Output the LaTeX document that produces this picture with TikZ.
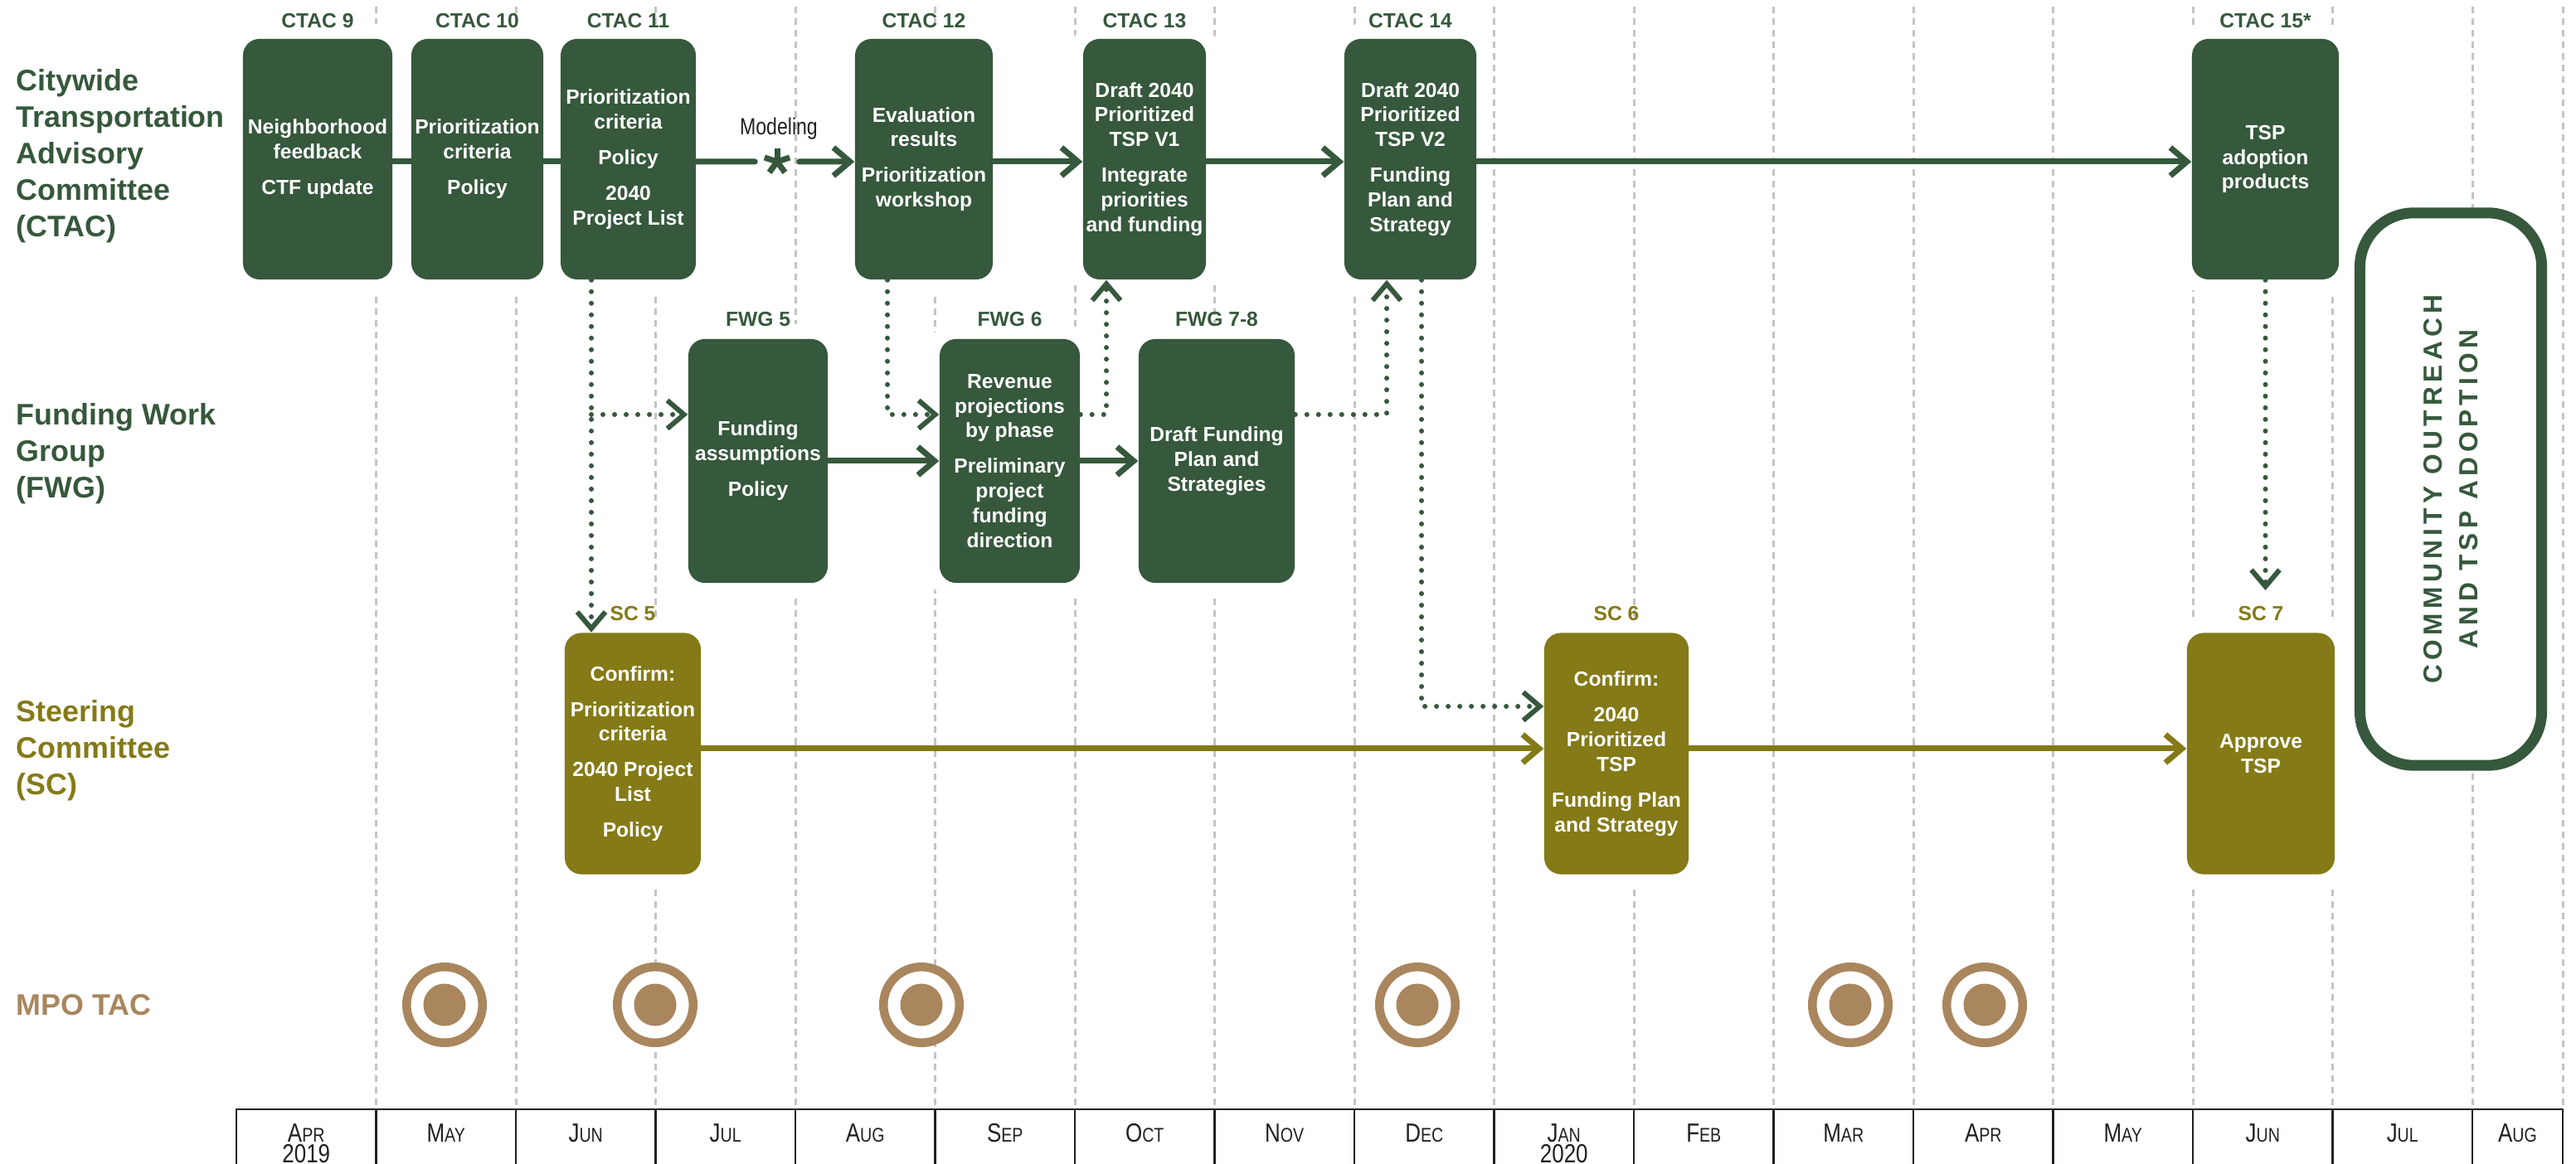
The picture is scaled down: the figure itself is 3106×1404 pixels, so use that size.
\documentclass[tikz,border=0pt]{standalone}
\usepackage{fontspec}
\setmainfont{Liberation Sans}
\newfontfamily\narrowfont{Liberation Sans}[FakeStretch=0.82]
\newfontfamily\spacedfont{Liberation Sans}[LetterSpace=17]
\usepackage{tikz}
\usetikzlibrary{arrows.meta}
\usetikzlibrary{positioning}

\definecolor{ctacgreen}{HTML}{36583C}
\definecolor{scolive}{HTML}{847A17}
\definecolor{mpotan}{HTML}{A9865D}
\definecolor{gridgray}{HTML}{C4C4C4}
\definecolor{axisgray}{HTML}{231F20}

\newcommand{\monthlbl}[2]{#1{\fontsize{6.8}{8}\selectfont #2}}

\begin{document}
\begin{tikzpicture}[line cap=round,line join=round,x=0.01cm,y=-0.01cm,
    >={Straight Barb[length=0.2cm,width=0.34cm]},
    box/.style={rounded corners=0.2cm, minimum height=2.9cm, inner sep=1pt, align=center,
      text=white, font=\fontsize{7}{8.5}\selectfont\bfseries,
      preaction={draw=white, line width=0.36cm}},
    ctacbox/.style={box, fill=ctacgreen},
    scbox/.style={box, fill=scolive},
    boxlbl/.style={inner sep=0, font=\fontsize{7}{8}\selectfont\bfseries},
    rowlbl/.style={anchor=west, align=left, inner sep=0, font=\fontsize{10.2}{12.5}\selectfont\bfseries},
    monthtxt/.style={anchor=north, inner sep=0, align=center, font=\fontsize{9}{7}\narrowfont, text=axisgray},
    flow/.style={line width=0.07cm, ctacgreen},
    dotflow/.style={line width=0.06cm, ctacgreen, dash pattern=on 0pt off 0.14cm},
    gridline/.style={gridgray, line width=0.03cm, line cap=butt, dash pattern=on 0.08cm off 0.06cm},
    mpo/.style={circle, draw=mpotan, fill=white, line width=0.105cm, minimum size=0.915cm, inner sep=0}]
  \useasboundingbox (0,0) rectangle (3106,1404);

  % month grid
  \foreach \i in {1,...,16}
    \draw[gridline] ({285+168.5*\i},8) -- ({285+168.5*\i},1338);
  \draw[gridline] (3090,8) -- (3090,1338);

  % time axis
  \draw[axisgray, line width=0.028cm] (285,1338) -- (3090,1338);
  \foreach \i in {0,...,16}
    \draw[axisgray, line width=0.028cm, line cap=butt] ({285+168.5*\i},1338) -- ++(0,80);
  \draw[axisgray, line width=0.028cm, line cap=butt] (3090,1338) -- ++(0,80);
  \node[monthtxt] (m0) at (369.25,1355) {\monthlbl{A}{PR}\\2019};
  \foreach \a/\b [count=\i] in {M/AY,J/UN,J/UL,A/UG,S/EP,O/CT,N/OV,D/EC}
    \node[monthtxt] (m\i) at ({285+168.5*(\i+0.5)},1355) {\monthlbl{\a}{\b}};
  \node[monthtxt] (m9) at (1885.75,1355) {\monthlbl{J}{AN}\\2020};
  \foreach \a/\b [count=\i from 10] in {F/EB,M/AR,A/PR,M/AY,J/UN,J/UL}
    \node[monthtxt] (m\i) at ({285+168.5*(\i+0.5)},1355) {\monthlbl{\a}{\b}};
  \node[monthtxt] (m16) at (3035.5,1355) {\monthlbl{A}{UG}};

  % row titles
  \node[rowlbl, text=ctacgreen] (rctac) at (19,188) {Citywide\\Transportation\\Advisory\\Committee\\(CTAC)};
  \node[rowlbl, text=ctacgreen] (rfwg) at (19,547) {Funding Work\\Group\\(FWG)};
  \node[rowlbl, text=scolive] (rsc) at (19,905) {Steering\\Committee\\(SC)};
  \node[rowlbl, text=mpotan] (rmpo) at (19,1212) {MPO TAC};

  % CTAC meetings
  \node[ctacbox, minimum width=1.80cm] (c9) at (383,192) {Neighborhood\\feedback\\[3.7pt]CTF update};
  \node[ctacbox, minimum width=1.59cm] (c10) at (575.5,192) {Prioritization\\criteria\\[3.7pt]Policy};
  \node[ctacbox, minimum width=1.63cm] (c11) at (757.5,192) {Prioritization\\criteria\\[3.7pt]Policy\\[3.7pt]2040\\Project List};
  \node[ctacbox, minimum width=1.66cm] (c12) at (1114,192) {Evaluation\\results\\[3.7pt]Prioritization\\workshop};
  \node[ctacbox, minimum width=1.48cm] (c13) at (1380,192) {Draft 2040\\Prioritized\\TSP V1\\[3.7pt]Integrate\\priorities\\and funding};
  \node[ctacbox, minimum width=1.59cm] (c14) at (1700.5,192) {Draft 2040\\Prioritized\\TSP V2\\[3.7pt]Funding\\Plan and\\Strategy};
  \node[ctacbox, minimum width=1.77cm] (c15) at (2731.5,192) {TSP\\adoption\\products};
  \node[boxlbl, text=ctacgreen, above=0.12cm of c9] (l9) {CTAC 9};
  \node[boxlbl, text=ctacgreen, above=0.12cm of c10] (l10) {CTAC 10};
  \node[boxlbl, text=ctacgreen, above=0.12cm of c11] (l11) {CTAC 11};
  \node[boxlbl, text=ctacgreen, above=0.12cm of c12] (l12) {CTAC 12};
  \node[boxlbl, text=ctacgreen, above=0.12cm of c13] (l13) {CTAC 13};
  \node[boxlbl, text=ctacgreen, above=0.12cm of c14] (l14) {CTAC 14};
  \node[boxlbl, text=ctacgreen, above=0.12cm of c15] (l15) {CTAC 15*};

  % modeling step
  \node[circle, minimum size=0.52cm, inner sep=0] (model) at (937,195) {};
  \foreach \a in {18,90,162,234,306}
    \draw[ctacgreen, line width=0.07cm, line cap=butt] (model.center) -- ++(\a:0.16cm);
  \node[inner sep=0, font=\fontsize{8}{9}\narrowfont, text=axisgray] (modlbl) at (939,155) {Modeling};

  % FWG meetings
  \node[ctacbox, minimum width=1.68cm, minimum height=2.94cm] (f5) at (914,556) {Funding\\assumptions\\[3.7pt]Policy};
  \node[ctacbox, minimum width=1.69cm, minimum height=2.94cm] (f6) at (1217.5,556) {Revenue\\projections\\by phase\\[3.7pt]Preliminary\\project\\funding\\direction};
  \node[ctacbox, minimum width=1.88cm, minimum height=2.94cm] (f78) at (1467,556) {Draft Funding\\Plan and\\Strategies};
  \node[boxlbl, text=ctacgreen, above=0.14cm of f5] (lf5) {FWG 5};
  \node[boxlbl, text=ctacgreen, above=0.14cm of f6] (lf6) {FWG 6};
  \node[boxlbl, text=ctacgreen, above=0.14cm of f78] (lf78) {FWG 7-8};

  % SC meetings
  \node[scbox, minimum width=1.64cm, minimum height=2.91cm] (s5) at (763,909) {Confirm:\\[3.7pt]Prioritization\\criteria\\[3.7pt]2040 Project\\List\\[3.7pt]Policy};
  \node[scbox, minimum width=1.74cm, minimum height=2.91cm] (s6) at (1949,909) {Confirm:\\[3.7pt]2040\\Prioritized\\TSP\\[3.7pt]Funding Plan\\and Strategy};
  \node[scbox, minimum width=1.78cm, minimum height=2.91cm] (s7) at (2726,909) {Approve\\TSP};
  \node[boxlbl, text=scolive, above=0.13cm of s5] (ls5) {SC 5};
  \node[boxlbl, text=scolive, above=0.13cm of s6] (ls6) {SC 6};
  \node[boxlbl, text=scolive, above=0.13cm of s7] (ls7) {SC 7};

  % outreach and adoption
  \node[draw=ctacgreen, line width=0.13cm, fill=white, rounded corners=0.65cm, rotate=90,
    minimum width=6.66cm, minimum height=2.19cm, align=center, text=ctacgreen,
    font=\fontsize{9}{12}\spacedfont\bfseries] (outreach) at (2955,590) {COMMUNITY OUTREACH\\AND TSP ADOPTION};

  % MPO TAC meetings
  \foreach \x [count=\i] in {536,790,1111,1709,2231,2393} {
    \node[mpo] (t\i) at (\x,1212) {};
    \fill[mpotan] (t\i.center) circle (0.255cm);
  }

  % solid flows
  \draw[flow] ([yshift=-0.03cm]c9.east) -- ([yshift=-0.03cm]c10.west);
  \draw[flow] ([yshift=-0.03cm]c10.east) -- ([yshift=-0.03cm]c11.west);
  \draw[flow] ([yshift=-0.03cm]c11.east) -- (model);
  \draw[flow,->] (model) -- ([yshift=-0.03cm]c12.west);
  \draw[flow,->] ([yshift=-0.03cm]c12.east) -- ([yshift=-0.03cm]c13.west);
  \draw[flow,->] ([yshift=-0.03cm]c13.east) -- ([yshift=-0.03cm]c14.west);
  \draw[flow,->] ([yshift=-0.03cm]c14.east) -- ([yshift=-0.03cm]c15.west);
  \draw[flow,->] (f5) -- (f6);
  \draw[flow,->] (f6) -- (f78);
  \draw[flow,scolive,->] ([yshift=0.06cm]s5.east) -- ([yshift=0.06cm]s6.west);
  \draw[flow,scolive,->] ([yshift=0.06cm]s6.east) -- ([yshift=0.06cm]s7.west);

  % dotted hand-offs
  \coordinate (k1) at (713,500);
  \coordinate (k2) at (1070,500);
  \coordinate (k3) at (1334,500);
  \coordinate (k4) at (1672,500);
  \coordinate (k5) at (1714,852);
  \coordinate (k6) at (2731,712);
  \draw[dotflow,->] (c11.south -| k1) -- (k1 |- s5.north);
  \draw[dotflow,->] (k1) -- (k1 -| f5.west);
  \draw[dotflow,->] (c12.south -| k2) -- (k2) -- (k2 -| f6.west);
  \draw[dotflow,->] (k3 -| f6.east) -- (k3) -- (k3 |- c13.south);
  \draw[dotflow,->] (k4 -| f78.east) -- (k4) -- (k4 |- c14.south);
  \draw[dotflow,->] (c14.south -| k5) -- (k5) -- (k5 -| s6.west);
  \draw[dotflow,->] (c15.south) -- (c15.south |- k6);
\end{tikzpicture}
\end{document}
